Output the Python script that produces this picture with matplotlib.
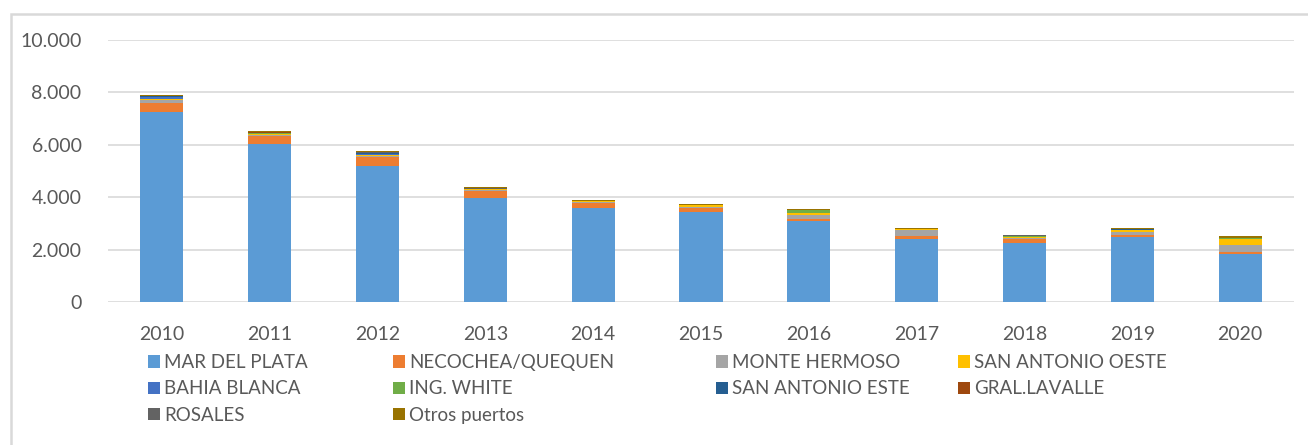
import matplotlib
matplotlib.use("Agg")
import matplotlib.pyplot as plt
from matplotlib.patches import Patch, Rectangle
from matplotlib.ticker import FuncFormatter
import numpy as np

# years on the x axis
years = ["2010", "2011", "2012", "2013", "2014", "2015",
         "2016", "2017", "2018", "2019", "2020"]

# series names (legend order, as in the original chart)
ports = ["MAR DEL PLATA", "NECOCHEA/QUEQUEN", "MONTE HERMOSO", "SAN ANTONIO OESTE",
         "BAHIA BLANCA", "ING. WHITE", "SAN ANTONIO ESTE", "GRAL.LAVALLE",
         "ROSALES", "Otros puertos"]

# values
mar_del_plata = [7240, 6040, 5190, 3980, 3580, 3450, 3090, 2410, 2240, 2470, 1840]
necochea = [370, 305, 345, 265, 190, 150, 75, 115, 180, 90, 50]
monte_hermoso = [100, 40, 40, 30, 40, 40, 150, 230, 30, 115, 290]
san_antonio_oeste = [35, 20, 20, 25, 30, 50, 90, 20, 30, 75, 230]
bahia_blanca = [75, 20, 45, 10, 10, 5, 10, 5, 10, 5, 5]
ing_white = [5, 20, 5, 5, 5, 5, 95, 5, 10, 10, 20]
san_antonio_este = [20, 20, 40, 10, 5, 5, 5, 5, 20, 5, 10]
gral_lavalle = [5, 5, 5, 5, 5, 5, 5, 5, 5, 5, 5]
rosales = [30, 30, 30, 30, 5, 5, 5, 5, 20, 5, 10]
otros = [25, 35, 30, 25, 35, 20, 30, 40, 17, 50, 60]

series = [mar_del_plata, necochea, monte_hermoso, san_antonio_oeste, bahia_blanca,
          ing_white, san_antonio_este, gral_lavalle, rosales, otros]

colors = ["#5B9BD5", "#ED7D31", "#A5A5A5", "#FFC000", "#4472C4",
          "#70AD47", "#255E91", "#9E480E", "#636363", "#997300"]

plt.rcParams["font.family"] = ["Lato", "DejaVu Sans"]
TXT = "#595959"

fig = plt.figure(figsize=(13.08, 4.45), dpi=100)
ax = fig.add_axes([108 / 1308, 1 - 302 / 445, 1186 / 1308, 262 / 445])

# outer chart frame (light gray, cut off at right and bottom)
fig.patches.append(Rectangle((11 / 1308, -0.1), 1.2, 1 - 14 / 445 + 0.1,
                             transform=fig.transFigure, fill=False,
                             edgecolor="#D9D9D9", linewidth=1.8))

x = np.arange(len(years))
bottom = np.zeros(len(years))
for vals, col in zip(series, colors):
    ax.bar(x, vals, width=0.4, bottom=bottom, color=col, zorder=3)
    bottom += np.array(vals)

ax.set_xlim(-0.5, len(years) - 0.5)
ax.set_ylim(0, 10000)
ax.set_yticks([0, 2000, 4000, 6000, 8000, 10000])
ax.yaxis.set_major_formatter(FuncFormatter(lambda v, p: f"{int(v):,}".replace(",", ".")))
ax.set_xticks(x)
ax.set_xticklabels(years)
ax.grid(axis="y", color="#D9D9D9", linewidth=1.2, zorder=0)
for s in ax.spines.values():
    s.set_visible(False)
ax.tick_params(length=0, labelsize=14, colors=TXT)
ax.tick_params(axis="y", pad=19)
ax.tick_params(axis="x", pad=17)

# legend laid out row-wise like Excel: one legend per column
handles = [Patch(facecolor=c) for c in colors]
col_x = [148, 393, 716, 958]
for k, cx in enumerate(col_x):
    idx = list(range(k, len(ports), 4))
    fig.legend([handles[i] for i in idx], [ports[i] for i in idx],
               loc="upper left", bbox_to_anchor=(cx / 1308, 1 - 354 / 445),
               frameon=False, fontsize=13.5, labelcolor=TXT,
               handlelength=0.65, handleheight=0.65, handletextpad=0.2,
               labelspacing=0.5, borderaxespad=0, borderpad=0)

fig.savefig("out.png", dpi=100)
